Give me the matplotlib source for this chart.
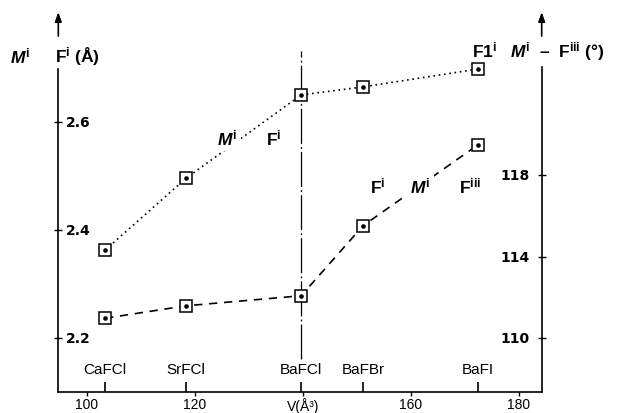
import matplotlib
matplotlib.use("Agg")
import matplotlib.pyplot as plt
from matplotlib.ticker import FixedLocator

# values
compounds = ["CaFCl", "SrFCl", "BaFCl", "BaFBr", "BaFI"]
volumes = [103.4, 118.4, 139.7, 151.2, 172.5]          # V (A^3)
bond_length = [2.363, 2.496, 2.650, 2.665, 2.698]      # M(i)-F(i) distance (A), left axis
bond_angle = [110.98, 111.59, 112.08, 115.51, 119.47]  # M(i)-F(iii) angle (deg), right axis

x_ticks = [100, 120, 140, 160, 180]
x_tick_labels = ["100", "120", "V(Å³)", "160", "180"]
left_ticks = [2.2, 2.4, 2.6]
left_tick_labels = ["2.2", "2.4", "2.6"]
right_ticks = [110, 114, 118]
right_tick_labels = ["110", "114", "118"]

plt.rcParams.update({
    "font.family": ["Liberation Sans", "DejaVu Sans"],
    "mathtext.fontset": "custom",
    "mathtext.rm": "Liberation Sans:bold",
    "mathtext.it": "Liberation Sans:italic:bold",
    "mathtext.bf": "Liberation Sans:bold",
})

W, H = 617, 414


def fx(px):
    return px / W


def fy(py):
    return 1 - py / H


fig = plt.figure(figsize=(W / 100, H / 100), dpi=100)
ax = fig.add_axes([fx(58.3), fy(392.7), (541.7 - 58.3) / W, (392.7 - 12) / H])
ax2 = ax.twinx()

ax.set_xlim(94.74, 184.26)
ax.set_ylim(2.1012, 2.8053)
ax2.set_ylim(107.389, 126.005)

# spines
lw_axis = 1.2
ax.spines["top"].set_visible(False)
ax.spines["right"].set_visible(False)
ax.spines["left"].set_bounds(2.1012, 2.6987)
ax.spines["left"].set_linewidth(lw_axis)
ax.spines["bottom"].set_linewidth(lw_axis)
for s in ("top", "left", "bottom"):
    ax2.spines[s].set_visible(False)
ax2.spines["right"].set_bounds(107.389, 123.27)
ax2.spines["right"].set_linewidth(lw_axis)

# arrows on the two y axes
for xa in (0, 1):
    ax.annotate("", xy=(xa, 0.997), xytext=(xa, 0.934), xycoords="axes fraction",
                arrowprops=dict(arrowstyle="-|>,head_length=0.55,head_width=0.2",
                                color="k", lw=lw_axis, shrinkA=0, shrinkB=0))

# x ticks
ax.set_xticks(x_ticks)
ax.set_xticklabels(x_tick_labels, fontsize=10)
ax.tick_params(axis="x", which="major", direction="out", length=3, width=1, pad=0.5)
ax.xaxis.set_minor_locator(FixedLocator(volumes))
ax.tick_params(axis="x", which="minor", direction="in", length=7, width=1.2)
for v, name in zip(volumes, compounds):
    ax.text(v, 0.0596, name, transform=ax.get_xaxis_transform(),
            ha="center", va="center", fontsize=11,
            bbox=dict(facecolor="white", edgecolor="none", pad=1))

# y ticks (labels placed inside the axes as in the original)
ax.set_yticks(left_ticks)
ax.tick_params(axis="y", direction="inout", length=6, width=1, labelleft=False)
for v, lab in zip(left_ticks, left_tick_labels):
    ax.text(0.0159, v, lab, transform=ax.get_yaxis_transform(), ha="left", va="center",
            fontsize=10, fontweight="bold", family="DejaVu Sans")
ax2.set_yticks(right_ticks)
ax2.tick_params(axis="y", direction="inout", length=6, width=1, labelright=False)
for v, lab in zip(right_ticks, right_tick_labels):
    ax2.text(0.9758, v, lab, transform=ax2.get_yaxis_transform(), ha="right", va="center",
             fontsize=10, fontweight="bold", family="DejaVu Sans")

# dash-dot guide at BaFCl
ax.axvline(volumes[2], ymin=0.085, ymax=0.895, color="k", lw=0.9,
           ls=(0, (28, 2.5, 1.5, 2.5)), zorder=1)

# data
ax.plot(volumes, bond_length, color="k", lw=1.2, ls=(0, (1, 2.2)), zorder=2)
ax.plot(volumes, bond_length, ls="none", marker="s", ms=9, mfc="white", mec="k", mew=1.1, zorder=3)
ax.plot(volumes, bond_length, ls="none", marker="o", ms=2.3, color="k", zorder=4)

ax2.plot(volumes, bond_angle, color="k", lw=1.2, ls=(0, (5, 4)), zorder=2)
ax2.plot(volumes, bond_angle, ls="none", marker="s", ms=9, mfc="white", mec="k", mew=1.1, zorder=3)
ax2.plot(volumes, bond_angle, ls="none", marker="o", ms=2.3, color="k", zorder=4)

# axis titles
big = dict(fontsize=12.5, fontweight="bold", va="baseline", ha="left")
fig.text(fx(10), fy(63), r"$M^{\mathrm{i}}$", **big)
fig.text(fx(55), fy(63), r"$\mathrm{F}^{\mathrm{i}}$ (Å)", **big)
fig.text(fx(471.7), fy(57), r"$\mathrm{F1}^{\mathrm{i}}$", **big)
fig.text(fx(510), fy(57), r"$M^{\mathrm{i}}$  –  $\mathrm{F}^{\mathrm{iii}}$ (°)", **big)

# labels along the curves
wbox = dict(facecolor="white", edgecolor="none", pad=3)
fig.text(fx(217), fy(145), r"$M^{\mathrm{i}}$", bbox=wbox, **big)
fig.text(fx(266), fy(145), r"$\mathrm{F}^{\mathrm{i}}$", bbox=wbox, **big)
fig.text(fx(370), fy(193), r"$\mathrm{F}^{\mathrm{i}}$", **big)
fig.text(fx(410), fy(193), r"$M^{\mathrm{i}}$", bbox=wbox, **big)
fig.text(fx(459.3), fy(193), r"$\mathrm{F}^{\mathrm{iii}}$", **big)

fig.savefig("out.png", dpi=100)
